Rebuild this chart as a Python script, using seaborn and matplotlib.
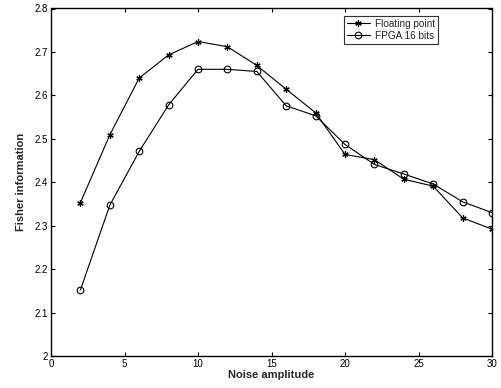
import matplotlib
matplotlib.use("Agg")
import matplotlib.pyplot as plt
import seaborn as sns
import pandas as pd

noise = [2, 4, 6, 8, 10, 12, 14, 16, 18, 20, 22, 24, 26, 28, 30]
floating = [2.353, 2.509, 2.640, 2.693, 2.724, 2.712, 2.669, 2.614, 2.560,
            2.464, 2.452, 2.407, 2.391, 2.318, 2.292]
fpga = [2.152, 2.347, 2.471, 2.578, 2.660, 2.660, 2.655, 2.576, 2.553,
        2.487, 2.441, 2.419, 2.396, 2.355, 2.330]
series_names = ["Floating point", "FPGA 16 bits"]
xticks = [0, 5, 10, 15, 20, 25, 30]
yticks = [2, 2.1, 2.2, 2.3, 2.4, 2.5, 2.6, 2.7, 2.8]
ytick_labels = ["2", "2.1", "2.2", "2.3", "2.4", "2.5", "2.6", "2.7", "2.8"]

sns.set_style("ticks")
plt.rcParams["font.family"] = ["Liberation Sans", "DejaVu Sans"]

fig = plt.figure(figsize=(5.01, 3.88), dpi=100)
ax = fig.add_axes([51 / 501, 32 / 388, 441 / 501, 347.5 / 388])

sns.lineplot(x=noise, y=floating, color="black", linewidth=0.8,
             marker=(6, 2, 0), markersize=4.5, markeredgecolor="black",
             markeredgewidth=0.9, label=series_names[0], ax=ax)
sns.lineplot(x=noise, y=fpga, color="black", linewidth=0.8,
             marker="o", markersize=4.8, markerfacecolor="none",
             markeredgecolor="black", markeredgewidth=0.8,
             label=series_names[1], ax=ax)

ax.set_xlim(0, 30)
ax.set_ylim(2, 2.8)
ax.set_xticks(xticks)
ax.set_yticks(yticks)
ax.set_yticklabels(ytick_labels)
ax.tick_params(direction="in", length=3, width=0.8, labelsize=7,
               top=True, right=True, colors="black", pad=2)
for s in ax.spines.values():
    s.set_visible(True)
    s.set_linewidth(1.0)
    s.set_color("black")

ax.set_xlabel("Noise amplitude", fontsize=8, fontweight="bold", labelpad=1)
ax.set_ylabel("Fisher information", fontsize=8, fontweight="bold", labelpad=6)

leg = ax.legend(loc="upper right",
                bbox_to_anchor=((438 - 51) / 441, 1 - 7.5 / 347.5),
                fontsize=7.2, frameon=True, fancybox=False, edgecolor="black",
                handlelength=2.3, borderpad=0.3, labelspacing=0.2,
                handletextpad=0.5, borderaxespad=0)
leg.get_frame().set_linewidth(0.8)

fig.savefig("out.png", dpi=100)
